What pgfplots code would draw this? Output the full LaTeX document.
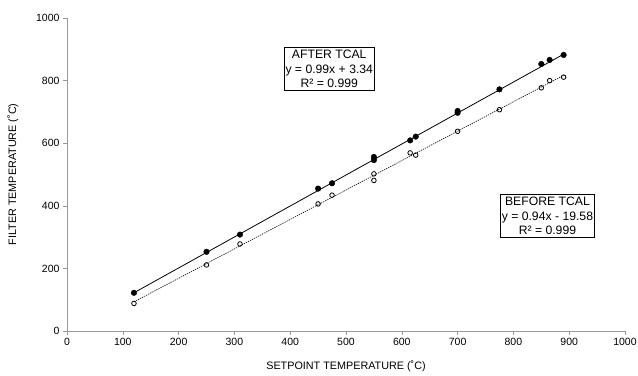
\documentclass[border=0pt]{standalone}
\usepackage{fontspec}
\setmainfont{Liberation Sans}
\usepackage{pgfplots}
\pgfplotsset{compat=1.18}
\begin{document}
\begin{tikzpicture}
\begin{axis}[
  scale only axis, width=558pt, height=313pt,
  xmin=0, xmax=1000, ymin=0, ymax=1000,
  xtick={0,100,...,1000}, ytick={0,200,...,1000},
  axis lines=left, axis line style={draw=gray!80, -},
  tick style={draw=gray!80, thin}, tick align=outside, major tick length=4pt,
  tick label style={font=\fontsize{10.5}{12}\selectfont},
  /pgf/number format/assume math mode=true,
  /pgf/number format/1000 sep={},
  xlabel={SETPOINT TEMPERATURE (˚C)}, ylabel={FILTER TEMPERATURE (˚C)},
  label style={font=\fontsize{10.8}{12}\selectfont},
  xlabel style={yshift=-8pt}, ylabel style={yshift=11pt},
  clip=false,
]
% trendlines
\addplot[black, line width=0.8pt, no marks] coordinates {(120,122.1) (890,884.4)};
\addplot[black, dash pattern=on 1.3pt off 1pt, line width=0.6pt, no marks] coordinates {(120,93.2) (890,817.0)};
% after TCAL (filled)
\addplot[only marks, mark=*, mark size=2.8pt, mark options={fill=black, draw=black}] coordinates {
(120,122) (250,253) (310,308) (450,455) (475,472) (550,546) (550,556)
(615,609) (625,621) (700,697) (700,703) (775,772) (850,853) (865,866) (890,882)};
% before TCAL (open)
\addplot[only marks, mark=o, mark size=2.3pt, mark options={draw=black, fill=white, line width=0.8pt}] coordinates {
(120,88) (250,211) (310,278) (450,406) (475,434) (550,481) (550,502)
(615,569) (625,562) (700,638) (775,707) (850,777) (865,800) (890,811)};
\node[draw=black, line width=1pt, fill=white, align=center, inner xsep=1.5pt, inner ysep=2.5pt,
  font=\fontsize{12.2}{14.5}\selectfont] at (axis cs:470,837) {AFTER TCAL\\y = 0.99x + 3.34\\R² = 0.999};
\node[draw=black, line width=1pt, fill=white, align=center, inner xsep=1.5pt, inner ysep=2.5pt,
  font=\fontsize{12.2}{14.5}\selectfont] at (axis cs:861,367) {BEFORE TCAL\\y = 0.94x - 19.58\\R² = 0.999};
\end{axis}
\pgfresetboundingbox
\useasboundingbox (current axis.south west) ++(-67pt,-45pt) rectangle ([shift={(13pt,18pt)}]current axis.north east);
\end{tikzpicture}
\end{document}
